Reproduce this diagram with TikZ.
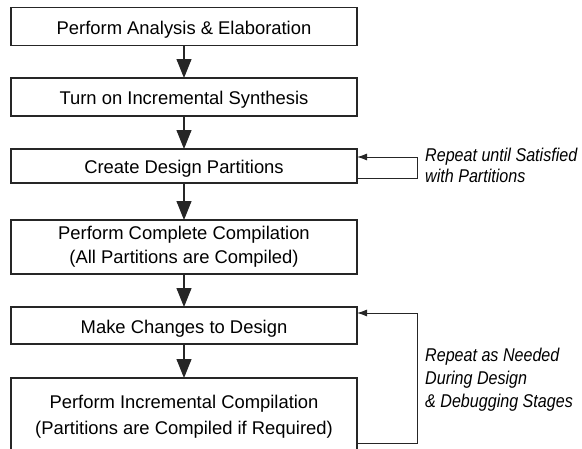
\documentclass[tikz,border=0pt]{standalone}
\usepackage{fontspec}
\setmainfont{Liberation Sans}
\newfontfamily\condfont[FakeStretch=0.87]{Liberation Sans}
\usetikzlibrary{arrows.meta}
\begin{document}
\begin{tikzpicture}[x=1pt,y=-1pt,
  box/.style={draw=black!85, line width=1.2pt, rectangle, inner sep=0pt, outer sep=0pt,
    minimum width=346pt, align=center, font=\fontsize{18.4}{24}\selectfont,
    execute at begin node={\rule[-4pt]{0pt}{23.4pt}}},
  flow/.style={draw=black!85, line width=1.2pt, -{Triangle[length=19pt,width=15pt]}},
  loop/.style={draw=black!85, line width=1pt, -{Latex[length=10pt,width=7pt]}},
  note/.style={inner sep=0pt, anchor=base west, align=left}]
\useasboundingbox (0,0) rectangle (582,448);
\node[box, minimum height=38pt] (b1) at (184,26.5) {Perform Analysis \& Elaboration};
\node[box, minimum height=38pt] (b2) at (184,97) {Turn on Incremental Synthesis};
\node[box, minimum height=34pt] (b3) at (184,166) {Create Design Partitions};
\node[box, minimum height=54pt] (b4) at (184,247) {Perform Complete Compilation\\(All Partitions are Compiled)};
\node[box, minimum height=37pt] (b5) at (184,325.5) {Make Changes to Design};
\node[box, minimum height=78pt, font=\fontsize{18.4}{25.5}\selectfont] (b6) at (184,417) {Perform Incremental Compilation\\(Partitions are Compiled if Required)};
\draw[flow] (b1) -- (b2);
\draw[flow] (b2) -- (b3);
\draw[flow] (b3) -- (b4);
\draw[flow] (b4) -- (b5);
\draw[flow] (b5) -- (b6);
\coordinate (l1a) at (417,178);
\coordinate (l1b) at (417,157);
\draw[loop] (b3.east |- l1a) -- (l1a) -- (l1b) -- (b3.east |- l1b);
\coordinate (l2a) at (417,443);
\coordinate (l2b) at (417,313);
\draw[loop] (b6.east |- l2a) -- (l2a) -- (l2b) -- (b5.east |- l2b);
\node[note, font=\condfont\itshape\fontsize{18.5}{21}\selectfont] (n1) at (425,182.7) {Repeat until Satisfied\\with Partitions};
\node[note, font=\condfont\itshape\fontsize{18.5}{23.3}\selectfont] (n2) at (425,407.7) {Repeat as Needed\\During Design\\\& Debugging Stages};
\end{tikzpicture}
\end{document}
